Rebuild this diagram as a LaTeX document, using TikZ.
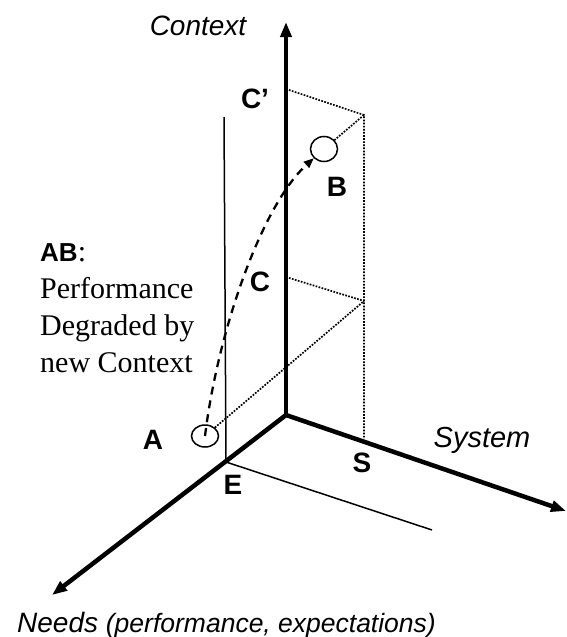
\documentclass[tikz,border=0pt]{standalone}
\usepackage{fontspec}
\setmainfont{Liberation Serif}
\setsansfont{Liberation Sans}
\usetikzlibrary{arrows.meta,shapes.geometric}

\tikzset{
    axis/.style = {line width=4.5pt, line cap=round, -{Triangle[length=15pt,width=11pt]}},
    thinline/.style = {line width=1.5pt},
    proj/.style = {line width=1.7pt, dash pattern=on 1.7pt off 1.4pt},
    move/.style = {line width=2.3pt, dash pattern=on 8pt off 6pt, -{Triangle[length=10pt,width=8pt]}},
    axislabel/.style = {inner sep=0pt, font=\sffamily\itshape\fontsize{28}{30}\selectfont},
    ptlabel/.style = {inner sep=0pt, font=\sffamily\bfseries\fontsize{28}{30}\selectfont},
    state/.style = {draw, ellipse, line width=1.5pt, inner sep=0pt}
}

\begin{document}
\begin{tikzpicture}[x=1pt, y=-1pt]
    \useasboundingbox (0,0) rectangle (566,637);

    % Origin and axis ends
    \coordinate (O) at (286,415);
    \coordinate (Ctip) at (286,22);
    \coordinate (Stip) at (566,511);
    \coordinate (Ntip) at (52,595);

    % Points on the axes and corners
    \coordinate (E) at (226,462);
    \coordinate (Etop) at (224,117);
    \coordinate (Eend) at (432,530);
    \coordinate (S) at (364,439);
    \coordinate (C) at (286,277);
    \coordinate (Cp) at (286,89);
    \coordinate (P1) at (364,115);
    \coordinate (P2) at (364,301);

    % Draw axes
    \draw[axis] (O) -- (Ctip);
    \draw[axis] (O) -- (Stip);
    \draw[axis] (O) -- (Ntip);

    % Thin solid lines from E
    \draw[thinline] (E) -- (Etop);
    \draw[thinline] (E) -- (Eend);

    % States A and B
    \node[state, minimum width=27pt, minimum height=22pt] (A) at (205,436) {};
    \node[state, minimum width=27pt, minimum height=25pt] (B) at (324,149) {};

    % Projection lines
    \draw[proj] (Cp) -- (P1) -- (S);
    \draw[proj] (P1) -- (B);
    \draw[proj] (C) -- (P2);
    \draw[proj] (A) -- (P2);

    % Move from A to B
    \draw[move] (A.center) .. controls (218,330) and (262,205) .. (B);

    % Axis labels
    \node[axislabel] (lcontext) at (198,26) {Context};
    \node[axislabel, font=\sffamily\itshape\fontsize{29}{30}\selectfont] (lsystem) at (482,440) {System};
    \node[axislabel, anchor=base west] (lneeds) at (17,632) {Needs {\fontsize{26.5}{30}\selectfont (performance, expectations)}};

    % Point labels
    \node[ptlabel] (la) at (153,440) {A};
    \node[ptlabel] (lb) at (337,187) {B};
    \node[ptlabel] (lc) at (260,282) {C};
    \node[ptlabel] (lcp) at (255,99) {C’};
    \node[ptlabel] (le) at (233,485) {E};
    \node[ptlabel] (ls) at (362,463) {S};

    % Note on AB
    \node[anchor=north west, align=left, inner sep=0pt, font=\fontsize{30}{37}\selectfont] (note) at (40,243)
        {{\sffamily\bfseries\fontsize{26}{37}\selectfont AB}:\\Performance\\Degraded by\\new Context};
\end{tikzpicture}
\end{document}
